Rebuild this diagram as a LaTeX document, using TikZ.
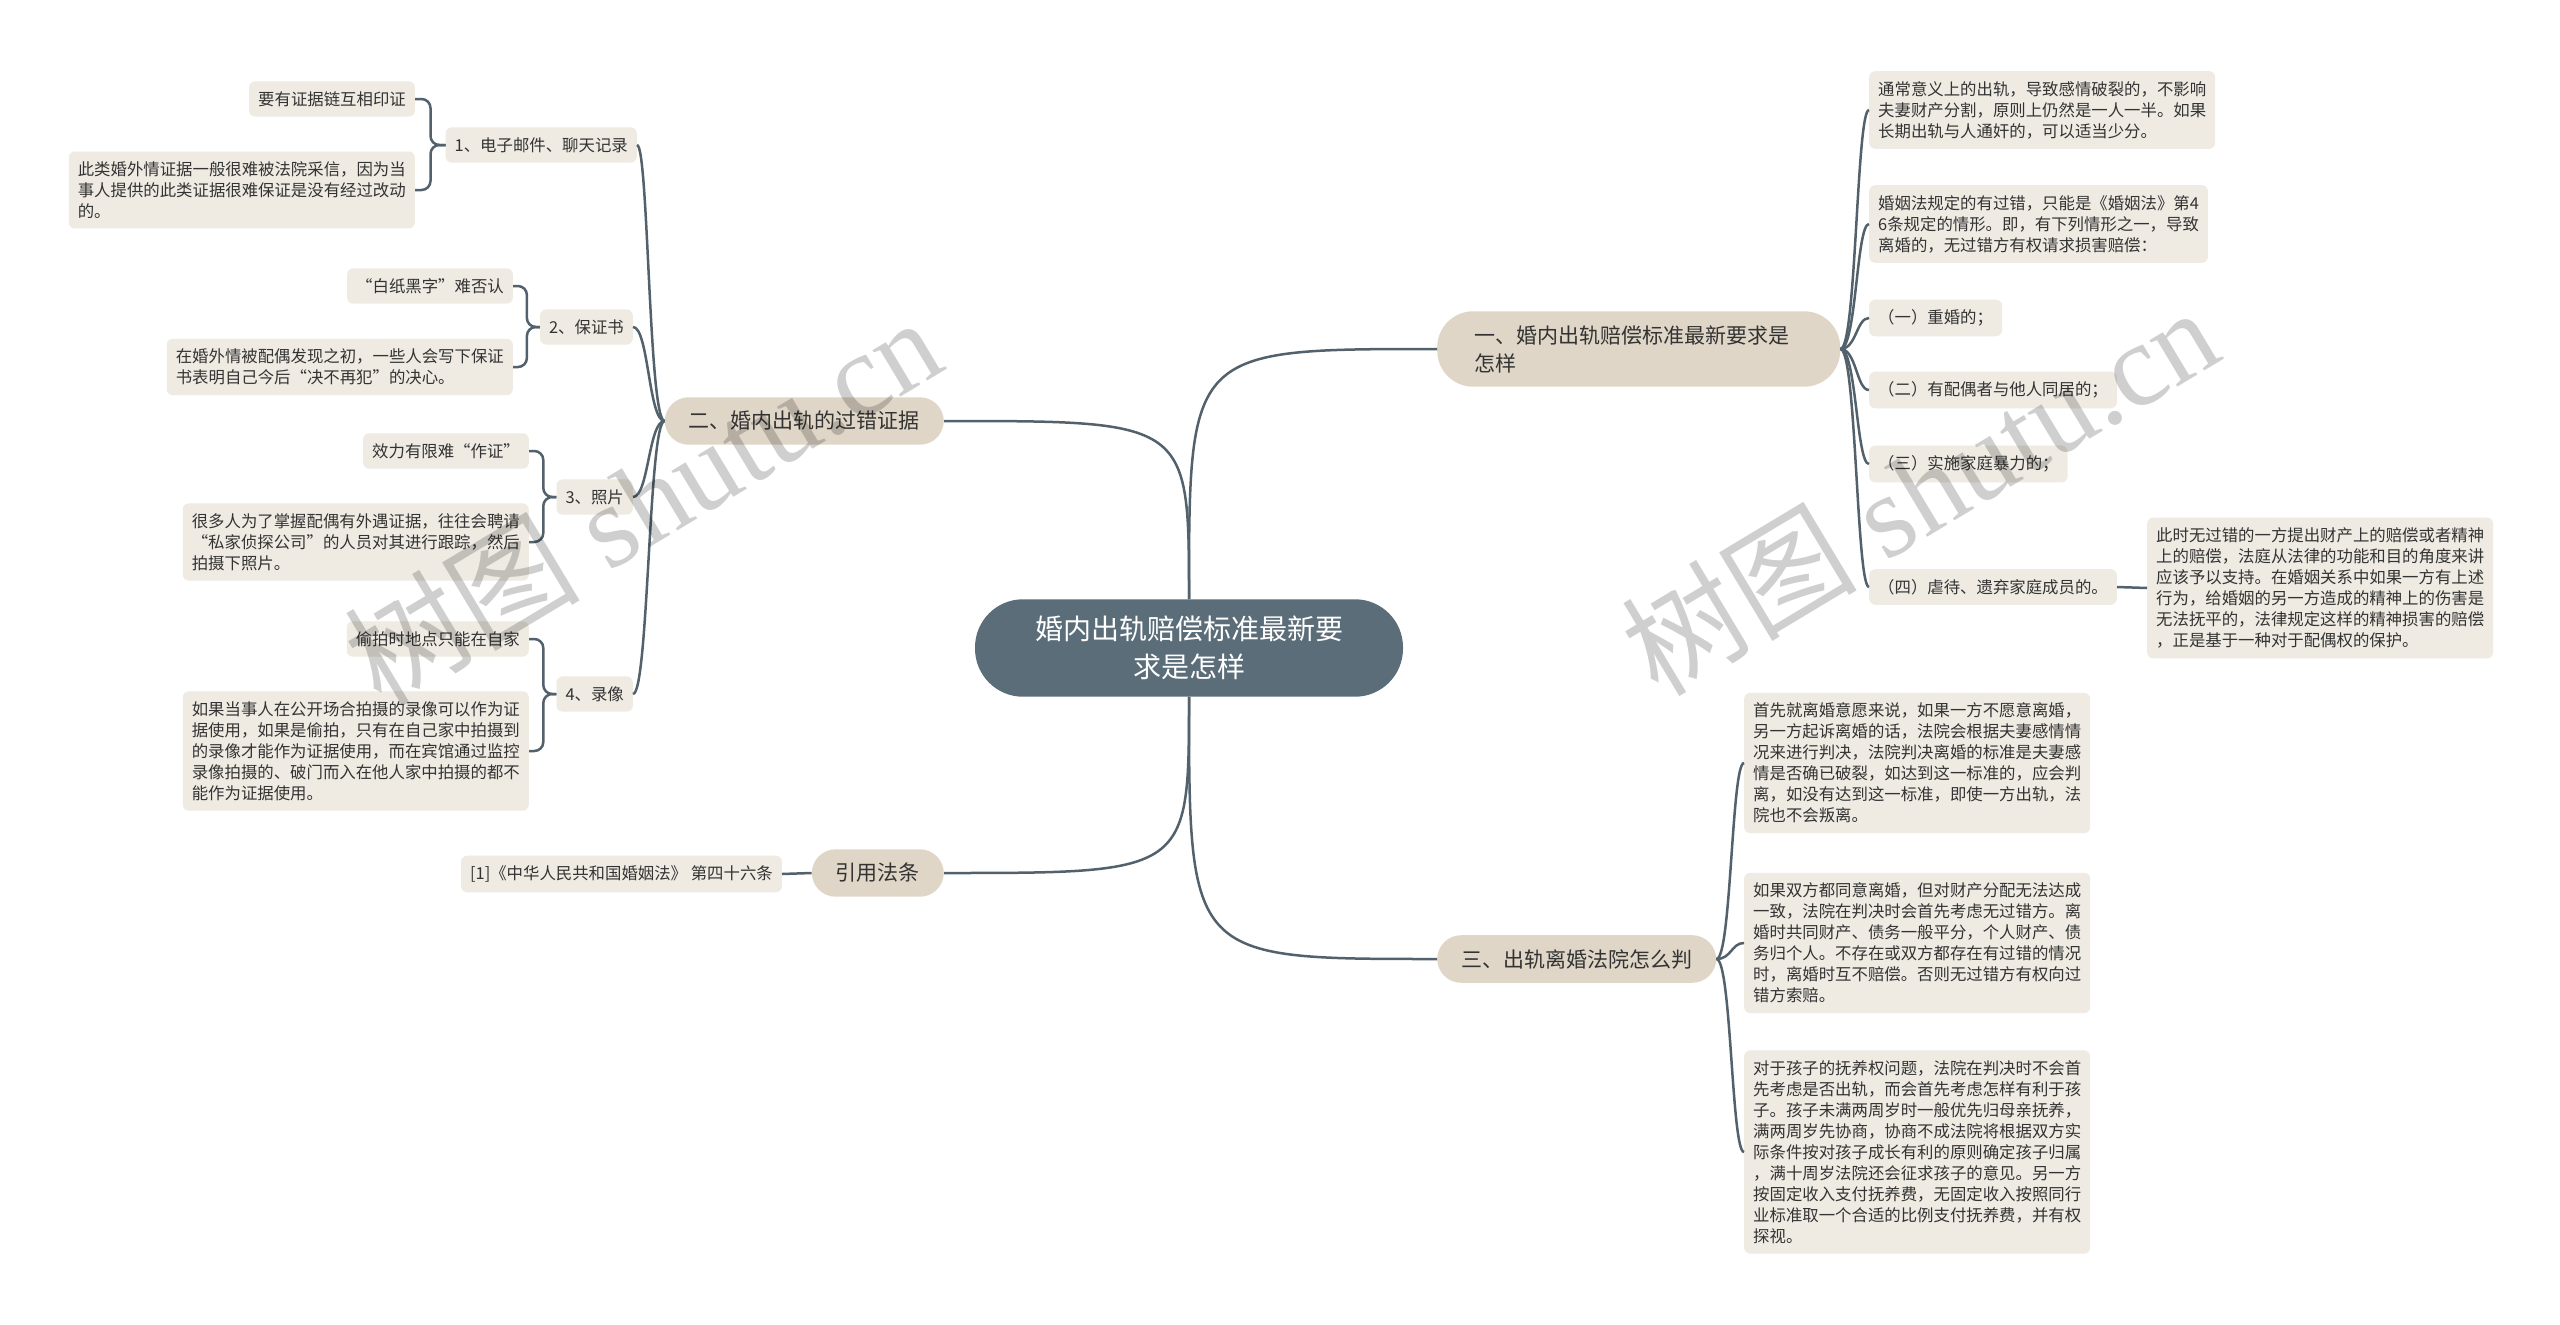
\documentclass[tikz,border=0pt]{standalone}
\usepackage{fontspec}
\setmainfont{Noto Sans CJK SC}
\newfontfamily\wmserif{Liberation Serif}
\usetikzlibrary{calc}
\definecolor{linec}{HTML}{52616B}
\definecolor{leafc}{HTML}{EFEBE3}
\definecolor{branchc}{HTML}{DFD6C7}
\definecolor{rootc}{HTML}{5B6D79}
\definecolor{txtc}{HTML}{333333}
\tikzset{
  leafbox/.style={fill=leafc, rounded corners=6pt, text=txtc, font=\fontsize{16.4pt}{21pt}\selectfont, inner xsep=9pt, inner ysep=10pt, align=left},
  branchbox/.style={fill=branchc, rounded corners=24pt, text=txtc, font=\fontsize{21pt}{28pt}\selectfont, inner xsep=24pt, inner ysep=14pt, align=left},
  rootbox/.style={fill=rootc, rounded corners=48pt, text=white, font=\fontsize{28pt}{37.5pt}\selectfont, inner xsep=60pt, inner ysep=17pt, align=center},
  conn/.style={draw=linec, line width=2.5pt},
  bracket/.style={conn, rounded corners=9pt},
  wmark/.style={text=black, opacity=0.19, font=\fontsize{118pt}{120pt}\selectfont, rotate=31, inner sep=0pt},
}
\begin{document}
\begin{tikzpicture}[x=1pt,y=-1pt]
\fill[white] (0,0) rectangle (2560,1325);
\useasboundingbox (0,0) rectangle (2560,1325);

% root and branches
\node[rootbox] (root) at (1189,648) {婚内出轨赔偿标准最新要\\求是怎样};
\node[branchbox, anchor=east] (b2) at (944,421) {二、婚内出轨的过错证据};
\node[branchbox, anchor=east] (b4) at (944,873) {引用法条};
\node[branchbox, anchor=west, rounded corners=36pt, inner xsep=37pt, text width=329pt] (b1) at (1437,349) {一、婚内出轨赔偿标准最新要求是\\怎样};
\node[branchbox, anchor=west] (b3) at (1437,959) {三、出轨离婚法院怎么判};

% left level 2
\node[leafbox, anchor=east] (c1) at (637,145) {1、电子邮件、聊天记录};
\node[leafbox, anchor=east] (c2) at (633,327) {2、保证书};
\node[leafbox, anchor=east] (c3) at (633,497) {3、照片};
\node[leafbox, anchor=east] (c4) at (633,694) {4、录像};

% left level 3
\node[leafbox, anchor=east] (g1a) at (415,99) {要有证据链互相印证};
\node[leafbox, anchor=east] (g1b) at (415,190) {此类婚外情证据一般很难被法院采信，因为当\\事人提供的此类证据很难保证是没有经过改动\\的。};
\node[leafbox, anchor=east] (g2a) at (513,286) {“白纸黑字”难否认};
\node[leafbox, anchor=east] (g2b) at (513,367) {在婚外情被配偶发现之初，一些人会写下保证\\书表明自己今后“决不再犯”的决心。};
\node[leafbox, anchor=east] (g3a) at (529,451) {效力有限难“作证”};
\node[leafbox, anchor=east] (g3b) at (529,542) {很多人为了掌握配偶有外遇证据，往往会聘请\\“私家侦探公司”的人员对其进行跟踪，然后\\拍摄下照片。};
\node[leafbox, anchor=east] (g4a) at (529,639) {偷拍时地点只能在自家};
\node[leafbox, anchor=east] (g4b) at (529,751) {如果当事人在公开场合拍摄的录像可以作为证\\据使用，如果是偷拍，只有在自己家中拍摄到\\的录像才能作为证据使用，而在宾馆通过监控\\录像拍摄的、破门而入在他人家中拍摄的都不\\能作为证据使用。};
\node[leafbox, anchor=east] (r1) at (782,874) {[1]《中华人民共和国婚姻法》 第四十六条};

% right level 2 under b1
\node[leafbox, anchor=west] (d1) at (1869,110) {通常意义上的出轨，导致感情破裂的，不影响\\夫妻财产分割，原则上仍然是一人一半。如果\\长期出轨与人通奸的，可以适当少分。};
\node[leafbox, anchor=west] (d2) at (1869,224) {婚姻法规定的有过错，只能是《婚姻法》第4\\6条规定的情形。即，有下列情形之一，导致\\离婚的，无过错方有权请求损害赔偿：};
\node[leafbox, anchor=west] (d3) at (1869,318) {（一）重婚的；};
\node[leafbox, anchor=west] (d4) at (1869,390) {（二）有配偶者与他人同居的；};
\node[leafbox, anchor=west] (d5) at (1869,464) {（三）实施家庭暴力的；};
\node[leafbox, anchor=west] (d6) at (1869,587) {（四）虐待、遗弃家庭成员的。};
\node[leafbox, anchor=west] (d7) at (2147,588) {此时无过错的一方提出财产上的赔偿或者精神\\上的赔偿，法庭从法律的功能和目的角度来讲\\应该予以支持。在婚姻关系中如果一方有上述\\行为，给婚姻的另一方造成的精神上的伤害是\\无法抚平的，法律规定这样的精神损害的赔偿\\，正是基于一种对于配偶权的保护。};

% right level 2 under b3
\node[leafbox, anchor=west] (e1) at (1744,763) {首先就离婚意愿来说，如果一方不愿意离婚，\\另一方起诉离婚的话，法院会根据夫妻感情情\\况来进行判决，法院判决离婚的标准是夫妻感\\情是否确已破裂，如达到这一标准的，应会判\\离，如没有达到这一标准，即使一方出轨，法\\院也不会叛离。};
\node[leafbox, anchor=west] (e2) at (1744,943) {如果双方都同意离婚，但对财产分配无法达成\\一致，法院在判决时会首先考虑无过错方。离\\婚时共同财产、债务一般平分，个人财产、债\\务归个人。不存在或双方都存在有过错的情况\\时，离婚时互不赔偿。否则无过错方有权向过\\错方索赔。};
\node[leafbox, anchor=west] (e3) at (1744,1152) {对于孩子的抚养权问题，法院在判决时不会首\\先考虑是否出轨，而会首先考虑怎样有利于孩\\子。孩子未满两周岁时一般优先归母亲抚养，\\满两周岁先协商，协商不成法院将根据双方实\\际条件按对孩子成长有利的原则确定孩子归属\\，满十周岁法院还会征求孩子的意见。另一方\\按固定收入支付抚养费，无固定收入按照同行\\业标准取一个合适的比例支付抚养费，并有权\\探视。};

% root connectors
\draw[conn] (root.north) .. controls (root.north|-b1.west) .. (b1.west);
\draw[conn] (root.north) .. controls (root.north|-b2.east) .. (b2.east);
\draw[conn] (root.south) .. controls (root.south|-b3.west) .. (b3.west);
\draw[conn] (root.south) .. controls (root.south|-b4.east) .. (b4.east);

% level 2 connectors
\coordinate (k2) at ($(b2.west)+(-16,0)$);
\foreach \c in {c1,c2,c3,c4}
  \draw[conn] (b2.west) .. controls (k2) and (k2|-\c.east) .. (\c.east);
\coordinate (k1) at ($(b1.east)+(16,0)$);
\foreach \c in {d1,d2,d3,d4,d5,d6}
  \draw[conn] (b1.east) .. controls (k1) and (k1|-\c.west) .. (\c.west);
\coordinate (k3) at ($(b3.east)+(15,0)$);
\foreach \c in {e1,e2,e3}
  \draw[conn] (b3.east) .. controls (k3) and (k3|-\c.west) .. (\c.west);

% brackets
\coordinate (j1) at ($(c1.west)+(-15,0)$);
\draw[bracket] (g1a.east) -| (j1) -- (c1.west);
\draw[bracket] (g1b.east) -| (j1) -- (c1.west);
\coordinate (j2) at ($(c2.west)+(-13,0)$);
\draw[bracket] (g2a.east) -| (j2) -- (c2.west);
\draw[bracket] (g2b.east) -| (j2) -- (c2.west);
\coordinate (j3) at ($(c3.west)+(-13,0)$);
\draw[bracket] (g3a.east) -| (j3) -- (c3.west);
\draw[bracket] (g3b.east) -| (j3) -- (c3.west);
\coordinate (j4) at ($(c4.west)+(-13,0)$);
\draw[bracket] (g4a.east) -| (j4) -- (c4.west);
\draw[bracket] (g4b.east) -| (j4) -- (c4.west);

\draw[conn] (b4.west) -- (r1.east);
\draw[conn] (d6.east) -- (d7.west);

% watermarks
\node[wmark] (wm1) at (642,500) {树图\hspace{0.25em}{\wmserif shutu.cn}};
\node[wmark] (wm2) at (1919,490) {树图\hspace{0.25em}{\wmserif shutu.cn}};
\end{tikzpicture}
\end{document}
